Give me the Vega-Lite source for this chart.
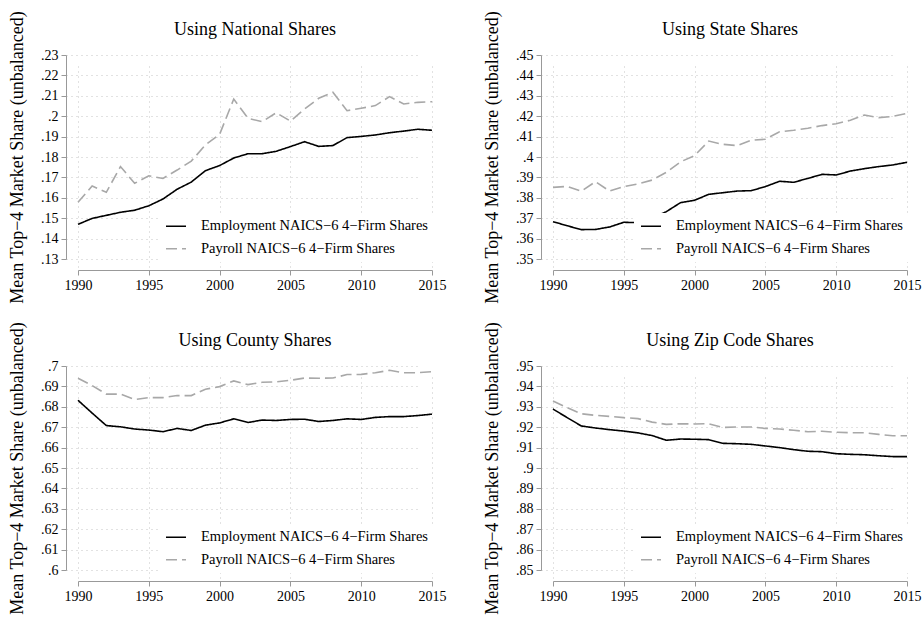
{
  "$schema": "https://vega.github.io/schema/vega-lite/v6.json",
  "background": "white",
  "padding": {"left": 8, "top": 10, "right": 5, "bottom": 5},
  "config": {
    "font": "Liberation Serif",
    "view": {"stroke": null},
    "title": {"font": "Liberation Serif", "fontSize": 18, "fontWeight": "normal", "color": "black", "anchor": "middle", "frame": "group", "offset": 8, "dy": 36},
    "axis": {"domainColor": "#999999", "tickColor": "#999999", "tickSize": 5, "labelFont": "Liberation Serif", "labelFontSize": 14, "labelColor": "black", "grid": true, "gridDash": [1, 4], "gridColor": "#c4c4c4", "titleFont": "Liberation Serif", "titleFontWeight": "normal", "titleColor": "black", "labelOverlap": false, "labelFlush": false},
    "axisX": {"offset": 11, "labelPadding": 3},
    "axisY": {"offset": 12, "labelPadding": 3, "titleFontSize": 18, "titlePadding": 14},
    "legend": {"orient": "none", "legendX": 81, "legendY": 158, "padding": 6, "fillColor": "white", "symbolType": "stroke", "symbolSize": 400, "symbolStrokeWidth": 1.6, "labelFont": "Liberation Serif", "labelFontSize": 14.5, "labelColor": "black", "labelOffset": 14, "rowPadding": 6.5, "clipHeight": 14.5, "labelLimit": 400}
  },
  "datasets": {
    "national": [
      {"year": 1990, "emp": 0.1470, "pay": 0.1578},
      {"year": 1991, "emp": 0.1499, "pay": 0.1658},
      {"year": 1992, "emp": 0.1514, "pay": 0.1627},
      {"year": 1993, "emp": 0.1529, "pay": 0.1753},
      {"year": 1994, "emp": 0.1539, "pay": 0.1671},
      {"year": 1995, "emp": 0.1561, "pay": 0.1708},
      {"year": 1996, "emp": 0.1594, "pay": 0.1695},
      {"year": 1997, "emp": 0.1642, "pay": 0.1736},
      {"year": 1998, "emp": 0.1677, "pay": 0.1780},
      {"year": 1999, "emp": 0.1733, "pay": 0.1859},
      {"year": 2000, "emp": 0.1758, "pay": 0.1911},
      {"year": 2001, "emp": 0.1795, "pay": 0.2084},
      {"year": 2002, "emp": 0.1816, "pay": 0.1990},
      {"year": 2003, "emp": 0.1816, "pay": 0.1973},
      {"year": 2004, "emp": 0.1828, "pay": 0.2017},
      {"year": 2005, "emp": 0.1851, "pay": 0.1976},
      {"year": 2006, "emp": 0.1875, "pay": 0.2035},
      {"year": 2007, "emp": 0.1852, "pay": 0.2088},
      {"year": 2008, "emp": 0.1856, "pay": 0.2117},
      {"year": 2009, "emp": 0.1895, "pay": 0.2027},
      {"year": 2010, "emp": 0.1901, "pay": 0.2039},
      {"year": 2011, "emp": 0.1908, "pay": 0.2052},
      {"year": 2012, "emp": 0.1919, "pay": 0.2096},
      {"year": 2013, "emp": 0.1927, "pay": 0.2060},
      {"year": 2014, "emp": 0.1936, "pay": 0.2068},
      {"year": 2015, "emp": 0.1931, "pay": 0.2071}
    ],
    "state": [
      {"year": 1990, "emp": 0.3683, "pay": 0.3851},
      {"year": 1991, "emp": 0.3663, "pay": 0.3856},
      {"year": 1992, "emp": 0.3644, "pay": 0.3832},
      {"year": 1993, "emp": 0.3645, "pay": 0.3879},
      {"year": 1994, "emp": 0.3657, "pay": 0.3833},
      {"year": 1995, "emp": 0.3680, "pay": 0.3855},
      {"year": 1996, "emp": 0.3678, "pay": 0.3868},
      {"year": 1997, "emp": 0.3700, "pay": 0.3887},
      {"year": 1998, "emp": 0.3732, "pay": 0.3925},
      {"year": 1999, "emp": 0.3776, "pay": 0.3976},
      {"year": 2000, "emp": 0.3788, "pay": 0.4007},
      {"year": 2001, "emp": 0.3817, "pay": 0.4078},
      {"year": 2002, "emp": 0.3825, "pay": 0.4062},
      {"year": 2003, "emp": 0.3833, "pay": 0.4056},
      {"year": 2004, "emp": 0.3835, "pay": 0.4082},
      {"year": 2005, "emp": 0.3855, "pay": 0.4087},
      {"year": 2006, "emp": 0.3881, "pay": 0.4124},
      {"year": 2007, "emp": 0.3876, "pay": 0.4131},
      {"year": 2008, "emp": 0.3895, "pay": 0.4141},
      {"year": 2009, "emp": 0.3915, "pay": 0.4154},
      {"year": 2010, "emp": 0.3912, "pay": 0.4163},
      {"year": 2011, "emp": 0.3931, "pay": 0.4180},
      {"year": 2012, "emp": 0.3943, "pay": 0.4206},
      {"year": 2013, "emp": 0.3953, "pay": 0.4193},
      {"year": 2014, "emp": 0.3961, "pay": 0.4199},
      {"year": 2015, "emp": 0.3974, "pay": 0.4214}
    ],
    "county": [
      {"year": 1990, "emp": 0.6832, "pay": 0.6940},
      {"year": 1991, "emp": 0.6769, "pay": 0.6904},
      {"year": 1992, "emp": 0.6708, "pay": 0.6862},
      {"year": 1993, "emp": 0.6702, "pay": 0.6862},
      {"year": 1994, "emp": 0.6691, "pay": 0.6836},
      {"year": 1995, "emp": 0.6686, "pay": 0.6845},
      {"year": 1996, "emp": 0.6678, "pay": 0.6845},
      {"year": 1997, "emp": 0.6694, "pay": 0.6855},
      {"year": 1998, "emp": 0.6684, "pay": 0.6855},
      {"year": 1999, "emp": 0.6710, "pay": 0.6886},
      {"year": 2000, "emp": 0.6721, "pay": 0.6899},
      {"year": 2001, "emp": 0.6741, "pay": 0.6927},
      {"year": 2002, "emp": 0.6723, "pay": 0.6909},
      {"year": 2003, "emp": 0.6735, "pay": 0.6920},
      {"year": 2004, "emp": 0.6733, "pay": 0.6922},
      {"year": 2005, "emp": 0.6738, "pay": 0.6930},
      {"year": 2006, "emp": 0.6739, "pay": 0.6941},
      {"year": 2007, "emp": 0.6728, "pay": 0.6940},
      {"year": 2008, "emp": 0.6733, "pay": 0.6941},
      {"year": 2009, "emp": 0.6741, "pay": 0.6958},
      {"year": 2010, "emp": 0.6738, "pay": 0.6959},
      {"year": 2011, "emp": 0.6748, "pay": 0.6967},
      {"year": 2012, "emp": 0.6752, "pay": 0.6979},
      {"year": 2013, "emp": 0.6752, "pay": 0.6967},
      {"year": 2014, "emp": 0.6757, "pay": 0.6967},
      {"year": 2015, "emp": 0.6764, "pay": 0.6972}
    ],
    "zip": [
      {"year": 1990, "emp": 0.9289, "pay": 0.9328},
      {"year": 1991, "emp": 0.9247, "pay": 0.9296},
      {"year": 1992, "emp": 0.9206, "pay": 0.9266},
      {"year": 1993, "emp": 0.9196, "pay": 0.9258},
      {"year": 1994, "emp": 0.9188, "pay": 0.9253},
      {"year": 1995, "emp": 0.9181, "pay": 0.9247},
      {"year": 1996, "emp": 0.9172, "pay": 0.9242},
      {"year": 1997, "emp": 0.9159, "pay": 0.9225},
      {"year": 1998, "emp": 0.9136, "pay": 0.9214},
      {"year": 1999, "emp": 0.9142, "pay": 0.9217},
      {"year": 2000, "emp": 0.9141, "pay": 0.9216},
      {"year": 2001, "emp": 0.9139, "pay": 0.9217},
      {"year": 2002, "emp": 0.9121, "pay": 0.9199},
      {"year": 2003, "emp": 0.9119, "pay": 0.9201},
      {"year": 2004, "emp": 0.9116, "pay": 0.9201},
      {"year": 2005, "emp": 0.9108, "pay": 0.9194},
      {"year": 2006, "emp": 0.9100, "pay": 0.9191},
      {"year": 2007, "emp": 0.9090, "pay": 0.9185},
      {"year": 2008, "emp": 0.9082, "pay": 0.9178},
      {"year": 2009, "emp": 0.9080, "pay": 0.9180},
      {"year": 2010, "emp": 0.9070, "pay": 0.9175},
      {"year": 2011, "emp": 0.9067, "pay": 0.9173},
      {"year": 2012, "emp": 0.9065, "pay": 0.9173},
      {"year": 2013, "emp": 0.9060, "pay": 0.9165},
      {"year": 2014, "emp": 0.9056, "pay": 0.9158},
      {"year": 2015, "emp": 0.9056, "pay": 0.9158}
    ]
  },
  "columns": 2,
  "spacing": {"row": 107, "column": 121},
  "bounds": "flush",
  "resolve": {"scale": {"x": "independent", "y": "independent", "color": "independent", "strokeDash": "independent"}},
  "concat": [
    {
      "width": 354, "height": 204,
      "title": "Using National Shares",
      "data": {"name": "national"},
      "transform": [{"fold": ["emp", "pay"], "as": ["series", "share"]}],
      "mark": {"type": "line", "strokeWidth": 1.6},
      "encoding": {
        "x": {"field": "year", "type": "quantitative", "scale": {"domain": [1990, 2015]},
              "axis": {"title": null, "format": "d", "values": [1990, 1995, 2000, 2005, 2010, 2015]}},
        "y": {"field": "share", "type": "quantitative", "scale": {"domain": [0.13, 0.23], "zero": false},
              "axis": {"title": "Mean Top−4 Market Share (unbalanced)", "values": [0.13, 0.14, 0.15, 0.16, 0.17, 0.18, 0.19, 0.2, 0.21, 0.22, 0.23], "labelExpr": "substring(format(datum.value, '.2~f'), 1)"}},
        "color": {"field": "series", "type": "nominal", "scale": {"domain": ["emp", "pay"], "range": ["#000000", "#a8a8a8"]},
                  "legend": {"title": null, "labelExpr": "datum.value === 'emp' ? 'Employment NAICS−6 4−Firm Shares' : 'Payroll NAICS−6 4−Firm Shares'"}},
        "strokeDash": {"field": "series", "type": "nominal", "scale": {"domain": ["emp", "pay"], "range": [[1, 0], [11, 5]]},
                  "legend": {"title": null, "labelExpr": "datum.value === 'emp' ? 'Employment NAICS−6 4−Firm Shares' : 'Payroll NAICS−6 4−Firm Shares'"}}
      }
    },
    {
      "width": 354, "height": 204,
      "title": "Using State Shares",
      "data": {"name": "state"},
      "transform": [{"fold": ["emp", "pay"], "as": ["series", "share"]}],
      "mark": {"type": "line", "strokeWidth": 1.6},
      "encoding": {
        "x": {"field": "year", "type": "quantitative", "scale": {"domain": [1990, 2015]},
              "axis": {"title": null, "format": "d", "values": [1990, 1995, 2000, 2005, 2010, 2015]}},
        "y": {"field": "share", "type": "quantitative", "scale": {"domain": [0.35, 0.45], "zero": false},
              "axis": {"title": "Mean Top−4 Market Share (unbalanced)", "values": [0.35, 0.36, 0.37, 0.38, 0.39, 0.4, 0.41, 0.42, 0.43, 0.44, 0.45], "labelExpr": "substring(format(datum.value, '.2~f'), 1)"}},
        "color": {"field": "series", "type": "nominal", "scale": {"domain": ["emp", "pay"], "range": ["#000000", "#a8a8a8"]},
                  "legend": {"title": null, "labelExpr": "datum.value === 'emp' ? 'Employment NAICS−6 4−Firm Shares' : 'Payroll NAICS−6 4−Firm Shares'"}},
        "strokeDash": {"field": "series", "type": "nominal", "scale": {"domain": ["emp", "pay"], "range": [[1, 0], [11, 5]]},
                  "legend": {"title": null, "labelExpr": "datum.value === 'emp' ? 'Employment NAICS−6 4−Firm Shares' : 'Payroll NAICS−6 4−Firm Shares'"}}
      }
    },
    {
      "width": 354, "height": 204,
      "title": "Using County Shares",
      "data": {"name": "county"},
      "transform": [{"fold": ["emp", "pay"], "as": ["series", "share"]}],
      "mark": {"type": "line", "strokeWidth": 1.6},
      "encoding": {
        "x": {"field": "year", "type": "quantitative", "scale": {"domain": [1990, 2015]},
              "axis": {"title": null, "format": "d", "values": [1990, 1995, 2000, 2005, 2010, 2015]}},
        "y": {"field": "share", "type": "quantitative", "scale": {"domain": [0.6, 0.7], "zero": false},
              "axis": {"title": "Mean Top−4 Market Share (unbalanced)", "values": [0.6, 0.61, 0.62, 0.63, 0.64, 0.65, 0.66, 0.67, 0.68, 0.69, 0.7], "labelExpr": "substring(format(datum.value, '.2~f'), 1)"}},
        "color": {"field": "series", "type": "nominal", "scale": {"domain": ["emp", "pay"], "range": ["#000000", "#a8a8a8"]},
                  "legend": {"title": null, "labelExpr": "datum.value === 'emp' ? 'Employment NAICS−6 4−Firm Shares' : 'Payroll NAICS−6 4−Firm Shares'"}},
        "strokeDash": {"field": "series", "type": "nominal", "scale": {"domain": ["emp", "pay"], "range": [[1, 0], [11, 5]]},
                  "legend": {"title": null, "labelExpr": "datum.value === 'emp' ? 'Employment NAICS−6 4−Firm Shares' : 'Payroll NAICS−6 4−Firm Shares'"}}
      }
    },
    {
      "width": 354, "height": 204,
      "title": "Using Zip Code Shares",
      "data": {"name": "zip"},
      "transform": [{"fold": ["emp", "pay"], "as": ["series", "share"]}],
      "mark": {"type": "line", "strokeWidth": 1.6},
      "encoding": {
        "x": {"field": "year", "type": "quantitative", "scale": {"domain": [1990, 2015]},
              "axis": {"title": null, "format": "d", "values": [1990, 1995, 2000, 2005, 2010, 2015]}},
        "y": {"field": "share", "type": "quantitative", "scale": {"domain": [0.85, 0.95], "zero": false},
              "axis": {"title": "Mean Top−4 Market Share (unbalanced)", "values": [0.85, 0.86, 0.87, 0.88, 0.89, 0.9, 0.91, 0.92, 0.93, 0.94, 0.95], "labelExpr": "substring(format(datum.value, '.2~f'), 1)"}},
        "color": {"field": "series", "type": "nominal", "scale": {"domain": ["emp", "pay"], "range": ["#000000", "#a8a8a8"]},
                  "legend": {"title": null, "labelExpr": "datum.value === 'emp' ? 'Employment NAICS−6 4−Firm Shares' : 'Payroll NAICS−6 4−Firm Shares'"}},
        "strokeDash": {"field": "series", "type": "nominal", "scale": {"domain": ["emp", "pay"], "range": [[1, 0], [11, 5]]},
                  "legend": {"title": null, "labelExpr": "datum.value === 'emp' ? 'Employment NAICS−6 4−Firm Shares' : 'Payroll NAICS−6 4−Firm Shares'"}}
      }
    }
  ]
}
